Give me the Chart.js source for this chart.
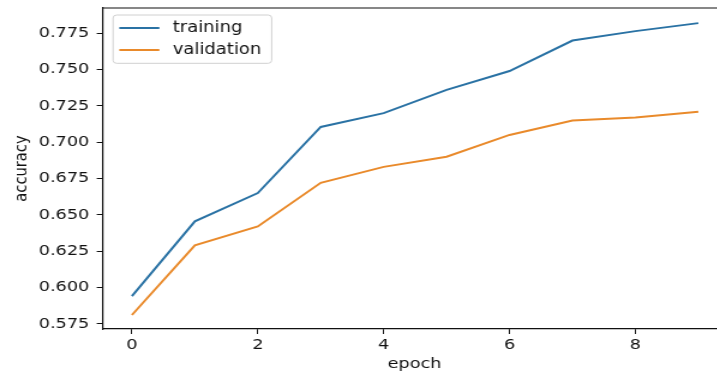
<!DOCTYPE html>
<html>
<head>
<meta charset="utf-8">
<script src="https://cdn.jsdelivr.net/npm/chart.js@4/dist/chart.umd.min.js"></script>
<style>
html, body { margin: 0; padding: 0; overflow: hidden; background: #fff; width: 717px; height: 376px; }
#wrap { width: 606px; height: 376px; transform: scaleX(1.2); transform-origin: 0 0; }
canvas { display: block; }
</style>
</head>
<body>
<div id="wrap"><canvas id="c" width="606" height="376"></canvas></div>
<script>
// ---- data ----
const epochs = [0, 1, 2, 3, 4, 5, 6, 7, 8, 9];
const training = [0.594, 0.6455, 0.665, 0.7105, 0.720, 0.736, 0.749, 0.770, 0.7765, 0.782];
const validation = [0.581, 0.629, 0.642, 0.672, 0.683, 0.690, 0.705, 0.715, 0.717, 0.721];
const seriesNames = ['training', 'validation'];
const xTicks = [0, 2, 4, 6, 8];
const yTicks = [0.575, 0.600, 0.625, 0.650, 0.675, 0.700, 0.725, 0.750, 0.775];
const yTickLabels = ['0.575', '0.600', '0.625', '0.650', '0.675', '0.700', '0.725', '0.750', '0.775'];
const xTitle = 'epoch';
const yTitle = 'accuracy';

const FONT = 'DejaVu Sans';
const INK = '#111111';
Chart.defaults.font.family = FONT;
Chart.defaults.color = INK;

const toPts = (ys) => epochs.map((e, i) => ({ x: e, y: ys[i] }));

const frame = {
  id: 'frame',
  afterDraw(chart) {
    const { ctx, chartArea: a } = chart;
    ctx.save();
    ctx.strokeStyle = INK;
    ctx.lineWidth = 1.2;
    ctx.beginPath();
    ctx.moveTo(a.left, a.top);
    ctx.lineTo(a.right, a.top);
    ctx.stroke();
    ctx.restore();
  }
};

const legendBox = {
  id: 'legendBox',
  afterDraw(chart) {
    const { ctx } = chart;
    const bx = 94.2, by = 15, bw = 132.2, bh = 48.3, r = 3;
    ctx.save();
    ctx.beginPath();
    ctx.roundRect(bx, by, bw, bh, r);
    ctx.fillStyle = 'rgba(255,255,255,0.85)';
    ctx.fill();
    ctx.strokeStyle = '#d0d0d0';
    ctx.lineWidth = 1;
    ctx.stroke();
    const rows = [28, 50];
    chart.data.datasets.forEach((ds, i) => {
      ctx.strokeStyle = ds.borderColor;
      ctx.lineWidth = 2;
      ctx.beginPath();
      ctx.moveTo(99.4, rows[i]);
      ctx.lineTo(132.8, rows[i]);
      ctx.stroke();
      ctx.fillStyle = INK;
      ctx.font = '15px ' + FONT;
      ctx.textBaseline = 'middle';
      ctx.textAlign = 'left';
      ctx.fillText(ds.label, 143.9, rows[i]);
    });
    ctx.restore();
  }
};

new Chart(document.getElementById('c'), {
  type: 'line',
  data: {
    datasets: [
      { label: seriesNames[0], data: toPts(training), borderColor: '#2a72a4', borderWidth: 2, pointRadius: 0, tension: 0, fill: false },
      { label: seriesNames[1], data: toPts(validation), borderColor: '#e98a2b', borderWidth: 2, pointRadius: 0, tension: 0, fill: false }
    ]
  },
  options: {
    responsive: false,
    animation: false,
    devicePixelRatio: 1,
    layout: { padding: { top: 8, right: 1, left: 0, bottom: 0 } },
    plugins: { legend: { display: false }, tooltip: { enabled: false } },
    scales: {
      x: {
        type: 'linear',
        min: -0.46,
        max: 9.44,
        afterBuildTicks: (s) => { s.ticks = xTicks.map(v => ({ value: v })); },
        afterFit: (s) => { s.height = 47; s.paddingLeft = 0; s.paddingRight = 0; },
        ticks: { font: { size: 14.7 }, color: INK, padding: 2.5, maxRotation: 0 },
        grid: { display: true, drawOnChartArea: false, drawTicks: true, tickLength: 5, color: INK, lineWidth: 1 },
        border: { display: true, color: INK, width: 1.2 },
        title: { display: true, text: xTitle, font: { size: 14.7 }, color: INK, padding: { top: 0, bottom: 3.2 } }
      },
      y: {
        type: 'linear',
        min: 0.57135,
        max: 0.79242,
        afterBuildTicks: (s) => { s.ticks = yTicks.map(v => ({ value: v })); },
        afterFit: (s) => { s.width = 85.8; s.paddingTop = 0; s.paddingBottom = 0; },
        ticks: {
          font: { size: 14.7 }, color: INK, padding: 6.2,
          callback: (v) => { const i = yTicks.findIndex(t => Math.abs(t - v) < 1e-9); return i >= 0 ? yTickLabels[i] : ''; }
        },
        grid: { display: true, drawOnChartArea: false, drawTicks: true, tickLength: 5.2, color: INK, lineWidth: 1 },
        border: { display: true, color: INK, width: 1.2 },
        title: { display: true, text: yTitle, font: { size: 14.7 }, color: INK, padding: { top: 9.7, bottom: 0 } }
      }
    }
  },
  plugins: [frame, legendBox]
});
</script>
</body>
</html>
